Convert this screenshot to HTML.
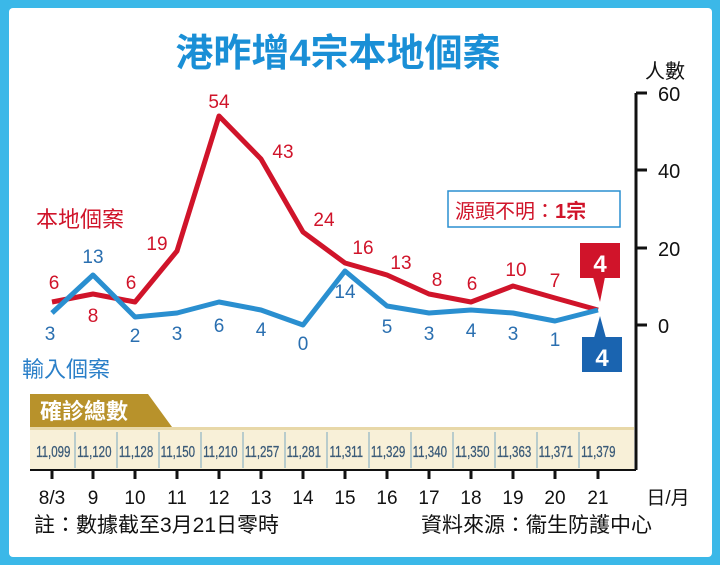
<!DOCTYPE html>
<html><head><meta charset="utf-8"><style>
body{margin:0;width:720px;height:565px;background:#3bb8e8;font-family:"Liberation Sans","Noto Sans CJK TC",sans-serif;}
#c{position:absolute;left:9px;top:8px;width:703px;height:549px;background:#fff;border-radius:4px;}
svg{position:absolute;left:0;top:0}
</style></head><body><div id="c"></div>
<svg width="720" height="565" font-family="Liberation Sans, Noto Sans CJK TC, sans-serif">
<text x="338" y="66" text-anchor="middle" font-size="38" font-weight="bold" fill="#1a8fd6">港昨增4宗本地個案</text>
<text x="665" y="78" text-anchor="middle" font-size="20" fill="#111">人數</text>
<line x1="636" y1="93" x2="636" y2="470" stroke="#111" stroke-width="3"/>
<g stroke="#111" stroke-width="3"><line x1="636" y1="93" x2="647" y2="93"/><line x1="636" y1="170" x2="647" y2="170"/><line x1="636" y1="248" x2="647" y2="248"/><line x1="636" y1="325" x2="647" y2="325"/></g>
<g font-size="20" fill="#111"><text x="658" y="101">60</text><text x="658" y="178">40</text><text x="658" y="256">20</text><text x="658" y="333">0</text></g>
<polyline fill="none" stroke="#d0142a" stroke-width="5" stroke-linejoin="round" points="52,302 93,294 135,302 177,251 219,116 261,159 303,232 345,263 387,275 429,294 471,302 513,286 555,298 598,310"/>
<polyline fill="none" stroke="#2a8fd0" stroke-width="5" stroke-linejoin="round" points="52,313 93,275 135,317 177,313 219,302 261,310 303,325 345,271 387,306 429,313 471,310 513,313 555,321 598,310"/>
<g font-size="19" fill="#d0142a" text-anchor="middle"><text x="54" y="289">6</text><text x="93" y="322">8</text><text x="131" y="289">6</text><text x="157" y="250">19</text><text x="219" y="108">54</text><text x="283" y="158">43</text><text x="324" y="226">24</text><text x="363" y="254">16</text><text x="401" y="269">13</text><text x="437" y="286">8</text><text x="472" y="290">6</text><text x="516" y="276">10</text><text x="555" y="287">7</text></g>
<g font-size="19" fill="#2a6fb0" text-anchor="middle"><text x="50" y="340">3</text><text x="93" y="263">13</text><text x="135" y="342">2</text><text x="177" y="340">3</text><text x="219" y="332">6</text><text x="261" y="336">4</text><text x="303" y="350">0</text><text x="345" y="298">14</text><text x="387" y="333">5</text><text x="429" y="340">3</text><text x="471" y="337">4</text><text x="513" y="340">3</text><text x="555" y="346">1</text></g>
<text x="36" y="227" font-size="22" fill="#d0142a">本地個案</text>
<text x="22" y="377" font-size="22" fill="#2a7fc8">輸入個案</text>
<rect x="448" y="191" width="172" height="36" fill="#fff" stroke="#2a8fd0" stroke-width="1.5"/>
<text x="455" y="218" font-size="20" fill="#d0142a">源頭不明：<tspan font-weight="bold">1宗</tspan></text>
<rect x="580" y="243" width="40" height="35" fill="#d0142a"/><polygon points="593,277 605,277 600,302" fill="#d0142a"/>
<text x="600" y="272" text-anchor="middle" font-size="24" font-weight="bold" fill="#fff">4</text>
<rect x="582" y="337" width="40" height="35" fill="#1a64b0"/><polygon points="594,338 606,338 600,316" fill="#1a64b0"/>
<text x="602" y="366" text-anchor="middle" font-size="24" font-weight="bold" fill="#fff">4</text>
<polygon points="30,394 148,394 172,427 30,427" fill="#b8922b"/>
<text x="40" y="419" font-size="22" fill="#fff" font-weight="bold">確診總數</text>
<rect x="30" y="427" width="604" height="3" fill="#e8d8a8"/>
<rect x="30" y="430" width="604" height="40" fill="#f8f0d8"/>
<g stroke="#7aa8c0" stroke-width="1"><line x1="75" y1="432" x2="75" y2="468"/><line x1="117" y1="432" x2="117" y2="468"/><line x1="159" y1="432" x2="159" y2="468"/><line x1="201" y1="432" x2="201" y2="468"/><line x1="243" y1="432" x2="243" y2="468"/><line x1="285" y1="432" x2="285" y2="468"/><line x1="327" y1="432" x2="327" y2="468"/><line x1="369" y1="432" x2="369" y2="468"/><line x1="411" y1="432" x2="411" y2="468"/><line x1="453" y1="432" x2="453" y2="468"/><line x1="495" y1="432" x2="495" y2="468"/><line x1="537" y1="432" x2="537" y2="468"/><line x1="579" y1="432" x2="579" y2="468"/></g>
<g font-size="16" fill="#3a5a78" text-anchor="middle" transform="scale(0.72,1)" stroke="#3a5a78" stroke-width="0.3">
<text x="74" y="457">11,099</text><text x="131" y="457">11,120</text><text x="189" y="457">11,128</text><text x="247" y="457">11,150</text><text x="306" y="457">11,210</text><text x="364" y="457">11,257</text><text x="422" y="457">11,281</text><text x="481" y="457">11,311</text><text x="539" y="457">11,329</text><text x="597" y="457">11,340</text><text x="656" y="457">11,350</text><text x="714" y="457">11,363</text><text x="772" y="457">11,371</text><text x="831" y="457">11,379</text></g>
<line x1="30" y1="470" x2="636" y2="470" stroke="#111" stroke-width="2"/>
<g stroke="#111" stroke-width="3"><line x1="52" y1="470" x2="52" y2="479"/><line x1="93" y1="470" x2="93" y2="479"/><line x1="135" y1="470" x2="135" y2="479"/><line x1="177" y1="470" x2="177" y2="479"/><line x1="219" y1="470" x2="219" y2="479"/><line x1="261" y1="470" x2="261" y2="479"/><line x1="303" y1="470" x2="303" y2="479"/><line x1="345" y1="470" x2="345" y2="479"/><line x1="387" y1="470" x2="387" y2="479"/><line x1="429" y1="470" x2="429" y2="479"/><line x1="471" y1="470" x2="471" y2="479"/><line x1="513" y1="470" x2="513" y2="479"/><line x1="555" y1="470" x2="555" y2="479"/><line x1="598" y1="470" x2="598" y2="479"/></g>
<g font-size="19" fill="#111" text-anchor="middle"><text x="52" y="504">8/3</text><text x="93" y="504">9</text><text x="135" y="504">10</text><text x="177" y="504">11</text><text x="219" y="504">12</text><text x="261" y="504">13</text><text x="303" y="504">14</text><text x="345" y="504">15</text><text x="387" y="504">16</text><text x="429" y="504">17</text><text x="471" y="504">18</text><text x="513" y="504">19</text><text x="555" y="504">20</text><text x="598" y="504">21</text><text x="668" y="504">日/月</text></g>
<text x="34" y="532" font-size="21" fill="#111">註：數據截至3月21日零時</text>
<text x="421" y="532" font-size="21" fill="#111">資料來源：衞生防護中心</text>
</svg></body></html>
